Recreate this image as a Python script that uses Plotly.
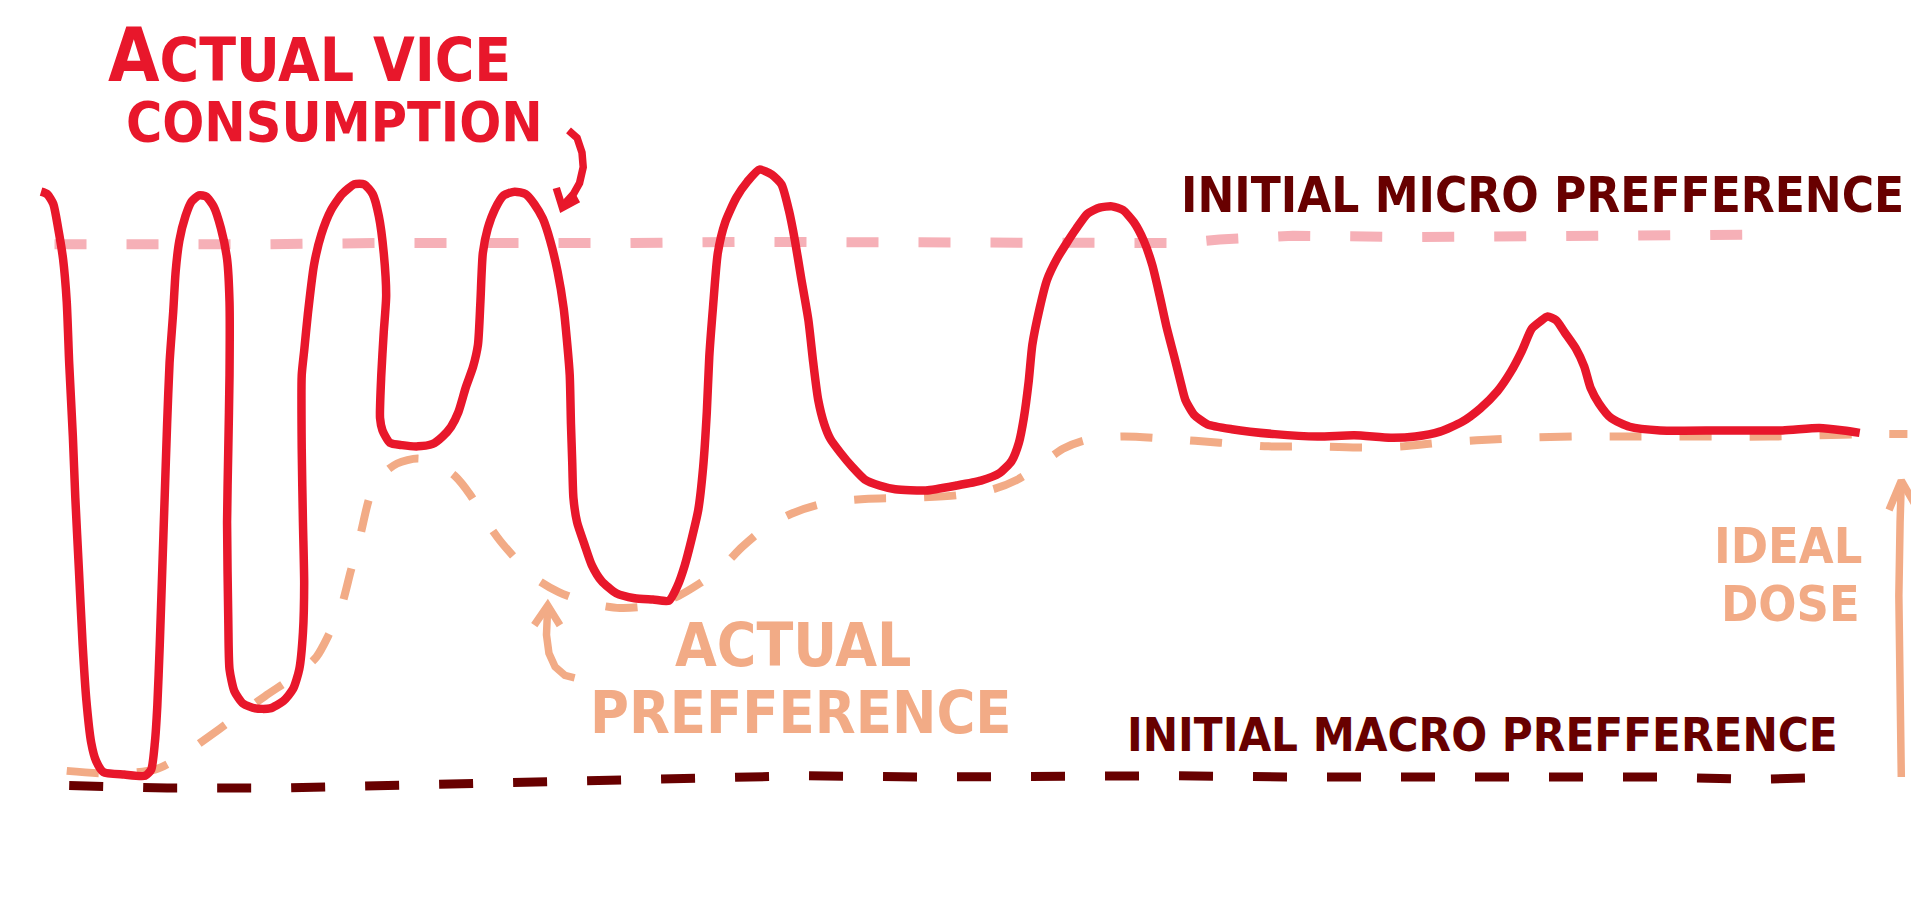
import plotly.graph_objects as go

# colours
RED = "#E8172B"
PINK = "#F6B0B7"
PEACH = "#F2AB86"
MAROON = "#680000"
FONT = "DejaVu Sans Condensed, DejaVu Sans, sans-serif"

# actual vice consumption (time, level; level axis runs top->down)
vice_t = [27, 32, 37, 41, 45, 48, 50, 53, 55, 58, 61, 64, 68, 72, 78, 95, 112, 117, 120, 122,
          124, 126, 128, 130, 132, 135, 137, 140, 145, 150, 156, 162, 168, 174, 179, 181, 181, 180,
          179, 180, 181, 185, 192, 202, 214, 225, 233, 238, 241, 242, 241, 240, 240, 242, 245, 250,
          256, 264, 273, 283, 291, 298, 303, 307, 309, 307, 305, 304, 306, 312, 322, 335, 347, 355,
          362, 368, 374, 380, 384, 386, 388, 392, 398, 405, 414, 423, 430, 437, 443, 449, 454, 457,
          459, 460, 461, 462, 465, 471, 477, 485, 497, 512, 527, 540, 547, 553, 559, 564, 568, 571,
          573, 576, 580, 586, 595, 604, 614, 624, 632, 638, 643, 648, 654, 658, 662, 667, 672, 680,
          690, 700, 712, 725, 750, 775, 795, 810, 820, 826, 830, 834, 837, 843, 849, 857, 865, 873,
          882, 892, 902, 911, 920, 928, 935, 941, 947, 953, 958, 962, 969, 980, 1000, 1035, 1070,
          1100, 1130, 1150, 1170, 1188, 1203, 1217, 1228, 1237, 1245, 1252, 1258, 1265, 1272, 1281,
          1288, 1293, 1300, 1310, 1325, 1350, 1400, 1450, 1480, 1500, 1513]
vice_level = [150, 152, 160, 180, 205, 240, 290, 350, 400, 460, 520, 565, 600, 615, 624, 626, 627,
              622, 600, 570, 520, 460, 400, 340, 290, 248, 215, 190, 170, 158, 153, 154, 162, 180,
              205, 240, 300, 360, 420, 500, 540, 558, 568, 572, 572, 566, 556, 540, 510, 470, 420,
              360, 300, 280, 250, 210, 185, 165, 152, 144, 144, 152, 170, 200, 235, 265, 300, 335,
              345, 355, 357, 358, 356, 350, 342, 330, 310, 293, 275, 240, 200, 180, 164, 153, 150,
              152, 160, 172, 190, 215, 245, 275, 300, 340, 370, 400, 420, 438, 455, 468, 478, 482,
              483, 484, 472, 455, 432, 410, 375, 330, 285, 245, 200, 175, 155, 142, 132, 136, 144,
              165, 190, 220, 255, 290, 320, 340, 352, 363, 375, 385, 390, 393, 394, 390, 386, 380,
              370, 355, 335, 305, 275, 245, 222, 205, 192, 180, 168, 163, 162, 165, 175, 190, 210,
              235, 262, 285, 305, 320, 332, 340, 344, 348, 350, 349, 351, 350, 346, 338, 327, 313,
              297, 280, 262, 256, 252, 255, 265, 278, 293, 310, 323, 335, 342, 345, 345, 345, 343,
              345, 347]

# actual preference
pref_t = [48, 80, 120, 140, 160, 185, 210, 235, 252, 263, 272, 280, 288, 296, 305, 318, 335, 350,
          365, 378, 390, 402, 415, 430, 450, 475, 500, 525, 548, 565, 582, 600, 618, 640, 665, 700,
          740, 775, 805, 825, 845, 862, 880, 910, 950, 990, 1030, 1070, 1110, 1140, 1170, 1200,
          1240, 1280, 1320, 1360, 1400, 1440, 1480, 1520, 1552]
pref_level = [623, 625, 622, 612, 598, 580, 562, 545, 530, 510, 490, 460, 430, 398, 382, 372, 368,
              372, 382, 398, 418, 435, 450, 465, 477, 486, 490, 488, 480, 470, 458, 440, 425, 413,
              405, 401, 400, 398, 393, 385, 372, 360, 353, 350, 352, 355, 358, 358, 359, 358, 355,
              353, 351, 350, 350, 350, 350, 350, 349, 348, 348]

# initial micro preference
micro_t = [38, 120, 200, 300, 400, 500, 600, 700, 800, 900, 960, 990, 1050, 1150, 1250, 1350, 1445]
micro_level = [193, 194, 193, 192, 193, 192, 191, 191, 190, 191, 192, 189, 186, 187, 186, 186, 185]

# initial macro preference
macro_t = [50, 130, 220, 300, 400, 480, 560, 650, 750, 850, 950, 1050, 1150, 1250, 1350, 1430, 1500]
macro_level = [635, 637, 637, 635, 633, 630, 628, 627, 628, 627, 627, 628, 628, 628, 628, 630, 628]

# hand drawn arrows (shaft, then head)
vice_arrow_t = [458, 465, 469, 470, 467, 462, 453, None, 448, 453, 466]
vice_arrow_level = [100, 106, 118, 130, 143, 152, 162, None, 147, 163, 156]
pref_arrow_t = [463, 455, 447, 442, 440, 440, 441, None, 430, 441, 451]
pref_arrow_level = [547, 545, 538, 527, 512, 495, 488, None, 504, 488, 504]
dose_arrow_t = [1547, 1546, 1545, 1546, 1547, None, 1537, 1547, 1558]
dose_arrow_level = [628, 560, 480, 420, 387, None, 410, 386, 405]

fig = go.Figure()

fig.add_trace(go.Scatter(x=micro_t, y=micro_level, mode="lines",
                         line=dict(color=PINK, width=10, dash="32px,40px"), hoverinfo="skip"))
fig.add_trace(go.Scatter(x=macro_t, y=macro_level, mode="lines",
                         line=dict(color=MAROON, width=9, dash="34px,40px"), hoverinfo="skip"))
fig.add_trace(go.Scatter(x=pref_t, y=pref_level, mode="lines",
                         line=dict(color=PEACH, width=8, dash="32px,38px", shape="spline", smoothing=0.8),
                         hoverinfo="skip"))
fig.add_trace(go.Scatter(x=vice_t, y=vice_level, mode="lines",
                         line=dict(color=RED, width=8.5, shape="spline", smoothing=0.6),
                         hoverinfo="skip"))

# arrows
for ax, ay, col in [(vice_arrow_t, vice_arrow_level, RED),
                    (pref_arrow_t, pref_arrow_level, PEACH),
                    (dose_arrow_t, dose_arrow_level, PEACH)]:
    fig.add_trace(go.Scatter(x=ax, y=ay, mode="lines", line=dict(color=col, width=7.5),
                             hoverinfo="skip"))

# labels: x, y, text, colour, size, vertical anchor
labels = [
    (80, 2, '<span style="font-size:74px">A</span>CTUAL VICE', RED, 60, "top"),
    (95, 93, "CONSUMPTION", RED, 55, "middle"),
    (957, 153, "INITIAL MICRO PREFFERENCE", MAROON, 49, "middle"),
    (543, 520, "ACTUAL", PEACH, 60, "middle"),
    (474, 575, "PREFFERENCE", PEACH, 59, "middle"),
    (913, 593, "INITIAL MACRO PREFFERENCE", MAROON, 47, "middle"),
    (1392, 439, "IDEAL", PEACH, 50, "middle"),
    (1398, 487, "DOSE", PEACH, 50, "middle"),
]
for lx, ly, txt, col, size, anchor in labels:
    fig.add_annotation(x=lx, y=ly, text=txt, showarrow=False, xanchor="left", yanchor=anchor,
                       font=dict(family=FONT, size=size, color=col, weight="bold"))

fig.update_layout(
    width=1919, height=900,
    showlegend=False,
    margin=dict(l=0, r=0, t=0, b=0),
    plot_bgcolor="white", paper_bgcolor="white",
    xaxis=dict(range=[0, 1568], visible=False, fixedrange=True),
    yaxis=dict(range=[735, 0], visible=False, fixedrange=True),
)

fig.write_html("out.html")
